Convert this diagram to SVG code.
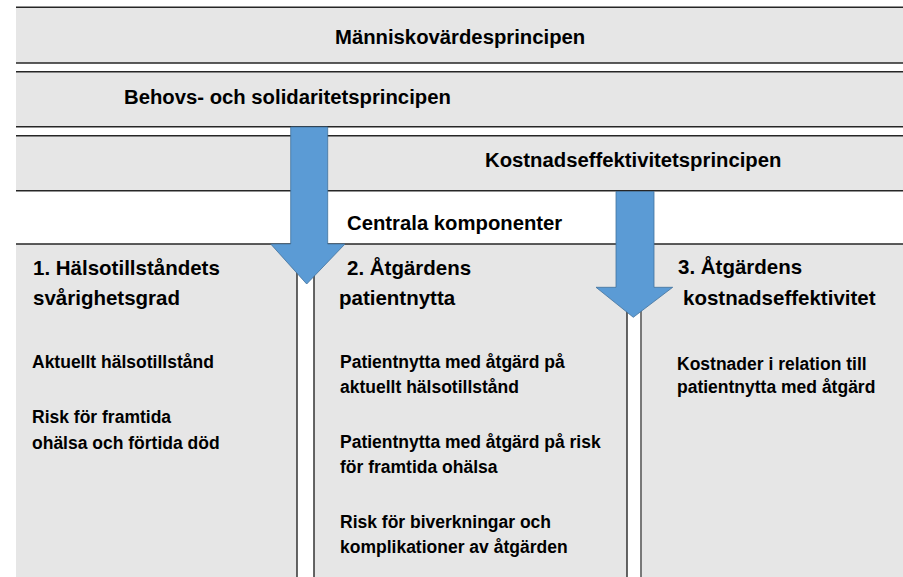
<svg xmlns="http://www.w3.org/2000/svg" width="903" height="577" viewBox="0 0 903 577">
<style>
.band{fill:#e6e6e6}
.box{fill:#e6e6e6}
.ln{stroke:#262626;stroke-width:1.4;fill:none}
.arrow{fill:#5b9bd5;stroke:#41719c;stroke-width:0.8}
.h{font-family:"Liberation Sans",Arial,sans-serif;font-weight:bold;font-size:20.3px;fill:#000}
.t{font-family:"Liberation Sans",Arial,sans-serif;font-weight:bold;font-size:20.5px;fill:#000}
.b{font-family:"Liberation Sans",Arial,sans-serif;font-weight:bold;font-size:17.5px;fill:#000}
</style>
<rect width="903" height="577" fill="#ffffff"/>
<g id="band-manniskovarde">
<rect class="band" x="16" y="7.3" width="887" height="55.7"/>
<line class="ln" x1="16" y1="7.3" x2="903" y2="7.3"/>
<line class="ln" x1="16" y1="63" x2="903" y2="63"/>
<text class="h" x="335" y="43.5">Människovärdesprincipen</text>
</g>
<g id="band-behov">
<rect class="band" x="16" y="71.7" width="887" height="55"/>
<line class="ln" x1="16" y1="71.7" x2="903" y2="71.7"/>
<line class="ln" x1="16" y1="126.7" x2="903" y2="126.7"/>
<text class="h" x="124" y="103.5">Behovs- och solidaritetsprincipen</text>
</g>
<g id="band-kostnad">
<rect class="band" x="16" y="135.7" width="887" height="55"/>
<line class="ln" x1="16" y1="135.7" x2="903" y2="135.7"/>
<line class="ln" x1="16" y1="190.7" x2="903" y2="190.7"/>
<text class="h" x="485" y="167">Kostnadseffektivitetsprincipen</text>
</g>
<g id="centrala">
<text class="h" x="347" y="229.5">Centrala komponenter</text>
</g>
<g id="box1">
<rect class="box" x="16" y="244" width="281" height="340"/>
<line class="ln" x1="297" y1="244" x2="297" y2="577"/>
<text class="t" x="33" y="275">1. Hälsotillståndets</text>
<text class="t" x="33" y="305">svårighetsgrad</text>
<text class="b" x="32" y="368">Aktuellt hälsotillstånd</text>
<text class="b" x="32" y="423">Risk för framtida</text>
<text class="b" x="32" y="449">ohälsa och förtida död</text>
</g>
<g id="box2">
<rect class="box" x="314" y="244" width="313" height="340"/>
<line class="ln" x1="314" y1="244" x2="314" y2="577"/>
<line class="ln" x1="627" y1="244" x2="627" y2="577"/>
<text class="t" x="347" y="275">2. Åtgärdens</text>
<text class="t" x="339" y="305">patientnytta</text>
<text class="b" x="340" y="368">Patientnytta med åtgärd på</text>
<text class="b" x="340" y="393">aktuellt hälsotillstånd</text>
<text class="b" x="340" y="448">Patientnytta med åtgärd på risk</text>
<text class="b" x="340" y="473">för framtida ohälsa</text>
<text class="b" x="340" y="528">Risk för biverkningar och</text>
<text class="b" x="340" y="553">komplikationer av åtgärden</text>
</g>
<g id="box3">
<rect class="box" x="641" y="244" width="262" height="340"/>
<line x1="641" y1="244" x2="641" y2="577" stroke="#6b6b6b" stroke-width="1.8"/>
<text class="t" x="678" y="273.5">3. Åtgärdens</text>
<text class="t" x="683" y="305">kostnadseffektivitet</text>
<text class="b" x="677" y="370">Kostnader i relation till</text>
<text class="b" x="677" y="393">patientnytta med åtgärd</text>
</g>
<line class="ln" x1="16" y1="244" x2="903" y2="244"/>
<g id="connectors">
<polygon class="arrow" points="290.7,127 327.7,127 327.7,244 345,244 306.7,284 270.7,244 290.7,244"/>
<polygon class="arrow" points="616,191.5 654,191.5 654,287.3 672.7,287.3 633.3,317.3 596,287.3 616,287.3"/>
</g>
</svg>
